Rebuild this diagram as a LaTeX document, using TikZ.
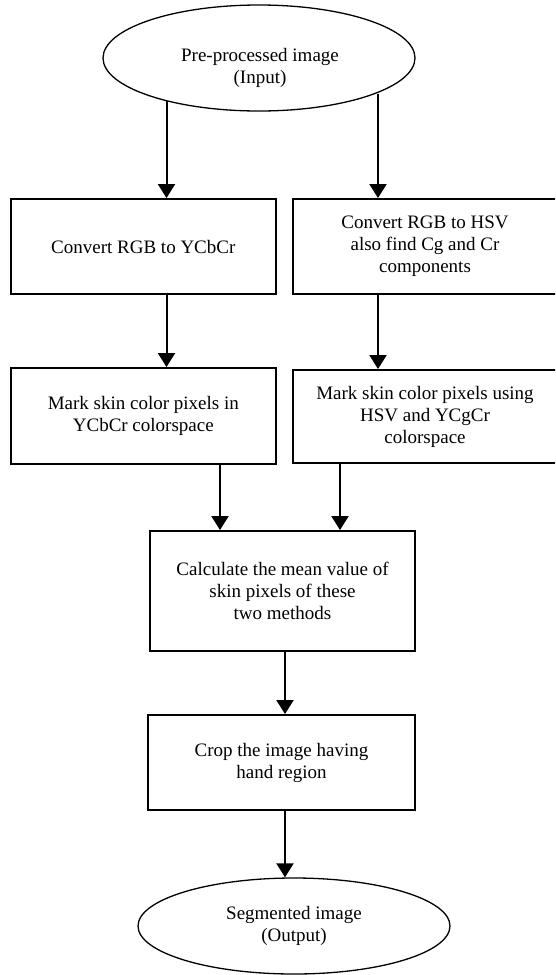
\documentclass[tikz,border=0pt]{standalone}
\usepackage{fontspec}
\setmainfont{Liberation Serif}
\usetikzlibrary{shapes.geometric,arrows.meta}
\begin{document}
\begin{tikzpicture}[x=1pt,y=-1pt,
  every node/.style={font=\fontsize{19}{22}\selectfont, align=center},
  stepbox/.style={draw, line width=1.9pt, rectangle, inner sep=0pt, minimum width=265pt},
  oval/.style={draw, line width=1.3pt, ellipse, inner sep=0pt, minimum width=312pt},
  arr/.style={line width=2pt, -{Triangle[length=14pt,width=17pt]}}]
\useasboundingbox (0,0) rectangle (555,975);
\clip (0,0) rectangle (555,975);
\fill[white] (0,0) rectangle (555,975);

\node[oval, minimum height=106pt] (in) at (259,58) {};
\node (intext) at (260,68) {Pre-processed image\\(Input)};

\node[stepbox, minimum height=95pt] (l1) at (143.3,246.5) {Convert RGB to YCbCr};
\node[stepbox, minimum width=264pt, minimum height=95pt] (r1) at (425,246.5) {Convert RGB to HSV\\also find Cg and Cr\\components};

\node[stepbox, minimum height=96pt] (l2) at (143.3,416) {Mark skin color pixels in\\YCbCr colorspace};
\node[stepbox, minimum width=264pt, minimum height=93pt] (r2) at (425,416.5) {Mark skin color pixels using\\HSV and YCgCr\\colorspace};

\node[stepbox, minimum height=120pt] (mean) at (282.5,591) {Calculate the mean value of\\skin pixels of these\\two methods};
\node[stepbox, minimum width=267pt, minimum height=95pt] (crop) at (281.5,762.5) {Crop the image having\\hand region};

\node[oval, minimum height=96pt] (out) at (294,926) {Segmented image\\(Output)};

\coordinate (xa) at (166.5,0);
\coordinate (xb) at (378,0);
\coordinate (xc) at (220,0);
\coordinate (xd) at (340,0);
\coordinate (xe) at (285,0);

\draw[arr] (xa |- in.204.6) -- (xa |- l1.north);
\draw[arr] (xb |- in.343.9) -- (xb |- r1.north);
\draw[arr] (xa |- l1.south) -- (xa |- l2.north);
\draw[arr] (xb |- r1.south) -- (xb |- r2.north);
\draw[arr] (xc |- l2.south) -- (xc |- mean.north);
\draw[arr] (xd |- r2.south) -- (xd |- mean.north);
\draw[arr] (xe |- mean.south) -- (xe |- crop.north);
\draw[arr] (xe |- crop.south) -- (xe |- out.north);
\end{tikzpicture}
\end{document}
